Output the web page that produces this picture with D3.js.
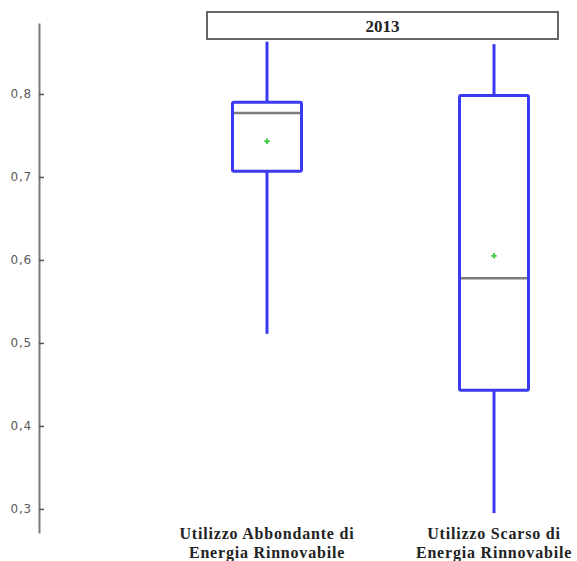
<!DOCTYPE html>
<html>
<head>
<meta charset="utf-8">
<script src="https://cdn.jsdelivr.net/npm/d3@7"></script>
<style>
  body { margin: 0; background: #fff; }
  svg { display: block; }
</style>
</head>
<body>
<div id="chart"></div>
<script>
// Data
var categories = ["Utilizzo Abbondante di\nEnergia Rinnovabile", "Utilizzo Scarso di\nEnergia Rinnovabile"];
var minValues = [0.511, 0.295];
var q1Values = [0.707, 0.443];
var medianValues = [0.777, 0.578];
var q3Values = [0.790, 0.798];
var maxValues = [0.863, 0.860];
var meanValues = [0.743, 0.605];
var yTicks = [0.3, 0.4, 0.5, 0.6, 0.7, 0.8];
var panelTitle = "2013";

var width = 577, height = 561;

var svg = d3.select("#chart")
  .append("svg")
  .attr("width", width)
  .attr("height", height);

var y = d3.scaleLinear()
  .domain([0.271, 0.8855])
  .range([533, 23]);

var x = d3.scalePoint()
  .domain(categories)
  .range([267, 494]);

var boxHalf = 34.5;
var blue = "#3a3af0";

// Italian decimal comma
var it = d3.formatLocale({decimal: ",", thousands: ".", grouping: [3], currency: ["€", ""]});

// Y axis
var yAxis = d3.axisLeft(y)
  .tickValues(yTicks)
  .tickFormat(it.format(".1f"))
  .tickSizeInner(-5)
  .tickSizeOuter(0)
  .tickPadding(7);

var ga = svg.append("g")
  .attr("transform", "translate(39,0)")
  .call(yAxis);
ga.select(".domain").attr("stroke", "#7a7a7a").attr("stroke-width", 2);
ga.selectAll(".tick line").attr("stroke", "#555").attr("stroke-width", 1.5);
ga.selectAll(".tick text")
  .attr("fill", "#5a5a5a")
  .style("font-family", "'DejaVu Sans', Verdana, sans-serif")
  .style("font-size", "12px")
  .style("letter-spacing", "0.8px");

// Panel title box
svg.append("rect")
  .attr("x", 207).attr("y", 12)
  .attr("width", 351).attr("height", 27)
  .attr("fill", "#fff")
  .attr("stroke", "#666")
  .attr("stroke-width", 2);
svg.append("text")
  .attr("x", (207 + 558) / 2)
  .attr("y", 32)
  .attr("text-anchor", "middle")
  .attr("fill", "#222")
  .style("font-family", "'Liberation Serif', 'Times New Roman', serif")
  .style("font-weight", "bold")
  .style("font-size", "17px")
  .text(panelTitle);

var boxes = svg.append("g").selectAll("g")
  .data(categories)
  .enter()
  .append("g");

// Whiskers
boxes.append("line")
  .attr("x1", function (d) { return x(d); })
  .attr("x2", function (d) { return x(d); })
  .attr("y1", function (d, i) { return y(maxValues[i]); })
  .attr("y2", function (d, i) { return y(q3Values[i]); })
  .attr("stroke", blue).attr("stroke-width", 3);
boxes.append("line")
  .attr("x1", function (d) { return x(d); })
  .attr("x2", function (d) { return x(d); })
  .attr("y1", function (d, i) { return y(q1Values[i]); })
  .attr("y2", function (d, i) { return y(minValues[i]); })
  .attr("stroke", blue).attr("stroke-width", 3);

// Box
boxes.append("rect")
  .attr("x", function (d) { return x(d) - boxHalf; })
  .attr("y", function (d, i) { return y(q3Values[i]); })
  .attr("width", boxHalf * 2)
  .attr("height", function (d, i) { return y(q1Values[i]) - y(q3Values[i]); })
  .attr("fill", "none")
  .attr("stroke", blue)
  .attr("stroke-width", 3)
  .attr("rx", 1.5);

// Median
boxes.append("line")
  .attr("x1", function (d) { return x(d) - boxHalf + 1.5; })
  .attr("x2", function (d) { return x(d) + boxHalf - 1.5; })
  .attr("y1", function (d, i) { return y(medianValues[i]); })
  .attr("y2", function (d, i) { return y(medianValues[i]); })
  .attr("stroke", "#7d7d7d").attr("stroke-width", 2.5);

// Mean marker
boxes.append("path")
  .attr("d", d3.symbol().type(d3.symbolCross).size(16))
  .attr("transform", function (d, i) { return "translate(" + x(d) + "," + y(meanValues[i]) + ")"; })
  .attr("fill", "#3ccc3c");

// Category labels (two lines)
boxes.append("text")
  .attr("text-anchor", "middle")
  .style("font-family", "'Liberation Serif', 'Times New Roman', serif")
  .style("font-weight", "bold")
  .style("font-size", "16px")
  .style("letter-spacing", "0.8px")
  .attr("fill", "#222")
  .each(function (d) {
    var t = d3.select(this);
    d.split("\n").forEach(function (line, k) {
      t.append("tspan")
        .attr("x", x(d))
        .attr("y", 539 + k * 18.5)
        .text(line);
    });
  });
</script>
</body>
</html>
